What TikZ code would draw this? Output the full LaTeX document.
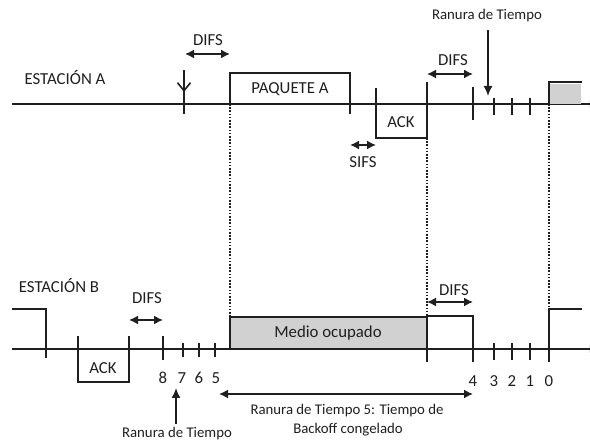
\documentclass[tikz,border=0pt]{standalone}
\usepackage{fontspec}
\setmainfont{Carlito}
\usetikzlibrary{arrows.meta}
\definecolor{ocupado}{gray}{0.82}
\definecolor{tinta}{gray}{0.12}
\tikzset{
  lbl/.style={font=\fontsize{16.8}{19}\selectfont, text=tinta, inner sep=0pt},
  smalllbl/.style={font=\fontsize{14.8}{17}\selectfont, text=tinta, inner sep=0pt},
  tline/.style={line width=1.6pt, draw=tinta},
  guide/.style={line width=1.8pt, draw=tinta, dash pattern=on 1.6pt off 1.6pt},
  dur/.style={tline, {Latex[length=9pt,width=9pt]}-{Latex[length=9pt,width=9pt]}},
}
\begin{document}
\begin{tikzpicture}[x=1pt,y=-1pt,>=Latex]
        \useasboundingbox (0,0) rectangle (590,443);
        % estacion A
        \node[lbl] (estA) at (65,78) {ESTACIÓN A};
        \draw[tline,->] (12,104) -- (600,104);
        \draw[tline,-{Straight Barb[length=8pt,width=13pt]}] (184,70) -- (184,92);
        \draw[tline] (184,90) -- (184,114);
        \draw[dur] (185,54) -- (230,54);
        \node[lbl] (difsA1) at (208,40) {DIFS};
        % paquete y ACK
        \draw[tline] (230,104) |- (350,73) -- (350,114);
        \node[lbl] (paqA) at (290,89) {PAQUETE A};
        \draw[tline] (376,88) |- (427,138) -- (427,82);
        \node[lbl] (ackA) at (401,122) {ACK};
        \draw[dur] (350,145) -- (376,145);
        \node[lbl] (sifsA) at (363,162) {SIFS};
        % DIFS y ranuras
        \draw[dur] (427,74) -- (473,74);
        \node[lbl] (difsA2) at (453,60) {DIFS};
        \draw[tline] (473,87) -- (473,120);
        \foreach \x in {494,512,530}
            \draw[tline] (\x,98) -- (\x,115);
        \node[smalllbl] (ranA) at (487,16) {Ranura de Tiempo};
        \draw[tline,-{Latex[length=10pt,width=9pt]}] (488,30) -- (488,96);
        \fill[ocupado] (549,84) rectangle (581,104);
        \draw[tline] (549,104) |- (582,82);
        % lineas punteadas
        \draw[guide] (230,104) -- (230,317);
        \draw[guide] (427,138) -- (427,316);
        \draw[guide] (549,104) -- (549,309);
        % estacion B
        \node[lbl] (estB) at (59,286) {ESTACIÓN B};
        \draw[tline,->] (12,349) -- (600,349);
        \draw[tline] (12,309) -| (46,358);
        \draw[tline] (78,336) |- (129,382) -- (129,336);
        \node[lbl] (ackB) at (103,368) {ACK};
        \draw[dur] (129,320) -- (163,320);
        \node[lbl] (difsB1) at (147,298) {DIFS};
        \draw[tline] (163,336) -- (163,360);
        \foreach \x in {183,199,215}
            \draw[tline] (\x,343) -- (\x,357);
        \foreach \x/\n in {163/8,182/7,199/6,216/5}
            \node[lbl] (nB\n) at (\x,378) {\n};
        % medio ocupado
        \filldraw[tline,fill=ocupado] (230,349) rectangle (427,317);
        \node[lbl] (medio) at (328,333) {Medio ocupado};
        \draw[tline] (427,362) |- (473,316) -- (473,362);
        \draw[dur] (427,302) -- (473,302);
        \node[lbl] (difsB2) at (454,290) {DIFS};
        \foreach \x in {494,512,530}
            \draw[tline] (\x,343) -- (\x,360);
        \draw[tline] (549,362) |- (582,309);
        \foreach \x/\n in {473/4,494/3,512/2,530/1,549/0}
            \node[lbl] (nA\n) at (\x,381) {\n};
        % ranura y backoff
        \draw[tline,-{Latex[length=10pt,width=9pt]}] (176,424) -- (176,388);
        \node[smalllbl] (ranB) at (177,434) {Ranura de Tiempo};
        \draw[dur] (219,394) -- (473,394);
        \node[smalllbl] (back1) at (347,411) {Ranura de Tiempo 5: Tiempo de};
        \node[smalllbl] (back2) at (348,430) {Backoff congelado};
\end{tikzpicture}
\end{document}
